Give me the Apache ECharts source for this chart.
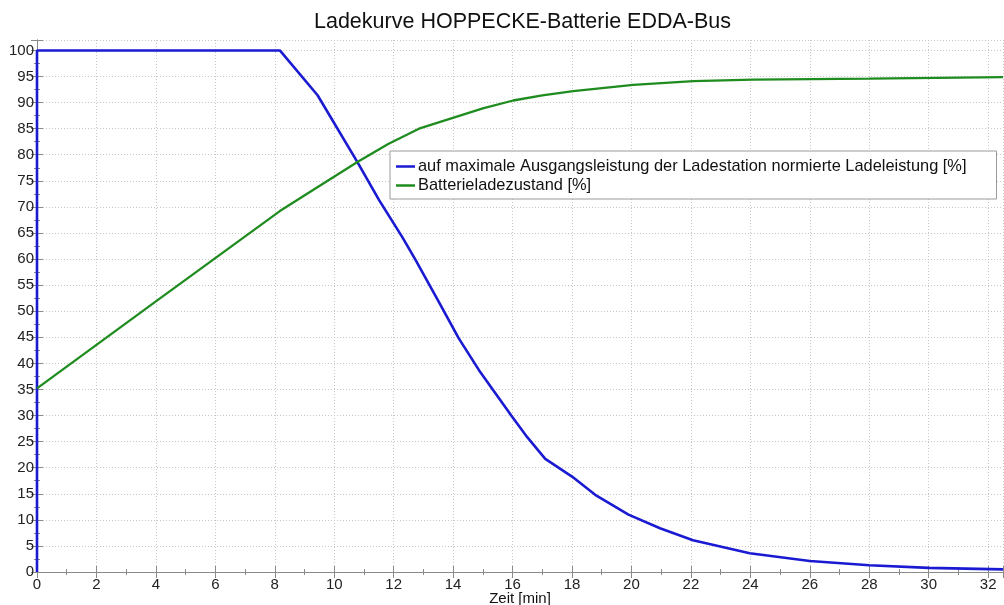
<!DOCTYPE html>
<html>
<head>
<meta charset="utf-8">
<script src="https://cdn.jsdelivr.net/npm/echarts@6/dist/echarts.min.js"></script>
<style>html,body{margin:0;padding:0;background:#fff;overflow:hidden}#c{width:1004px;height:605px}</style>
</head>
<body>
<div id="c"></div>
<script>
const titleText = 'Ladekurve HOPPECKE-Batterie EDDA-Bus';
const xAxisName = 'Zeit [min]';
const seriesNames = ['auf maximale Ausgangsleistung der Ladestation normierte Ladeleistung [%]', 'Batterieladezustand [%]'];

const powerTime = [0, 0, 8.17, 9.44, 10.78, 11.51, 12.29, 12.74, 13.5, 14.19, 14.87, 15.98, 16.5, 17.1, 18.0, 18.78, 19.9, 20.96, 22.07, 23.98, 26.0, 28.0, 30.0, 32.5];
const powerValue = [0, 100, 100, 91.4, 78.6, 71.3, 64.2, 59.8, 52.0, 44.8, 38.7, 29.8, 25.8, 21.7, 18.3, 14.8, 11.0, 8.4, 6.1, 3.6, 2.1, 1.3, 0.8, 0.5];

const socTime = [0, 4, 8.17, 9.5, 10.78, 11.8, 12.85, 14.23, 15.0, 16.02, 17.0, 18.04, 20.06, 22.08, 24.1, 28.0, 32.5];
const socValue = [35.2, 51.9, 69.2, 74.0, 78.6, 82.0, 85.0, 87.5, 88.9, 90.4, 91.4, 92.2, 93.4, 94.1, 94.4, 94.6, 94.9];

const FONT = "'Liberation Sans', Arial, sans-serif";
const blue = '#1a1ad2';
const green = '#1f8c1f';

const chart = echarts.init(document.getElementById('c'), null, {renderer: 'canvas'});
const axisLineStyle = {color: '#8a8a8a', width: 1};
const gridLine = {show: true, lineStyle: {color: '#c8c8c8', type: [1, 2], width: 1}};

chart.setOption({
  backgroundColor: '#fff',
  animation: false,
  title: {
    text: titleText, left: 309, top: 6,
    textStyle: {fontFamily: FONT, fontSize: 21.5, fontWeight: 'normal', color: '#111'}
  },
  legend: {
    orient: 'vertical', left: 390, top: 151,
    icon: 'rect', itemWidth: 19, itemHeight: 2.5, itemGap: 2,
    padding: [7, 30, 5, 6],
    backgroundColor: '#fff', borderColor: '#9a9a9a', borderWidth: 1, borderRadius: 0,
    textStyle: {fontFamily: FONT, fontSize: 16.4, color: '#111', padding: [0, 0, 0, -2], lineHeight: 17},
    data: seriesNames
  },
  grid: {left: 37, right: 1, top: 40, bottom: 33, containLabel: false, outerBoundsMode: 'none'},
  xAxis: [{
    type: 'value', min: 0, max: 32.5, interval: 2, position: 'bottom',
    name: xAxisName, nameLocation: 'middle', nameGap: 19, nameMoveOverlap: false,
    nameTextStyle: {fontFamily: FONT, fontSize: 15, color: '#111'},
    axisLine: {show: true, lineStyle: axisLineStyle},
    axisTick: {show: true, inside: true, length: 6, lineStyle: axisLineStyle},
    minorTick: {show: true, splitNumber: 2, length: 3, lineStyle: axisLineStyle},
    axisLabel: {fontFamily: FONT, fontSize: 15, color: '#222', margin: 5, showMaxLabel: false,
      formatter: v => (Number.isInteger(v) ? String(v) : '')},
    splitLine: gridLine
  }, {
    type: 'value', min: 0, max: 32.5, interval: 2, position: 'top',
    axisLine: {show: true, lineStyle: axisLineStyle},
    axisTick: {show: true, inside: true, length: 6, lineStyle: axisLineStyle},
    minorTick: {show: true, splitNumber: 2, length: 3, lineStyle: axisLineStyle},
    axisLabel: {show: false}, splitLine: {show: false}
  }],
  yAxis: [{
    type: 'value', min: 0, max: 102, interval: 5, position: 'left',
    axisLine: {show: true, lineStyle: axisLineStyle},
    axisTick: {show: true, inside: true, length: 6, lineStyle: axisLineStyle},
    minorTick: {show: true, splitNumber: 2, length: 3, lineStyle: axisLineStyle},
    axisLabel: {fontFamily: FONT, fontSize: 15, color: '#222', margin: 3, showMaxLabel: false,
      formatter: v => (v % 5 === 0 ? String(v) : '')},
    splitLine: gridLine
  }, {
    type: 'value', min: 0, max: 102, interval: 5, position: 'right',
    axisLine: {show: true, lineStyle: axisLineStyle},
    axisTick: {show: true, inside: true, length: 6, lineStyle: axisLineStyle},
    minorTick: {show: true, splitNumber: 2, length: 3, lineStyle: axisLineStyle},
    axisLabel: {show: false}, splitLine: {show: false}
  }],
  series: [{
    name: seriesNames[0], type: 'line', xAxisIndex: 0, yAxisIndex: 0,
    showSymbol: false, smooth: false, clip: false,
    lineStyle: {color: blue, width: 2.6}, itemStyle: {color: blue},
    data: powerTime.map((t, i) => [t, powerValue[i]])
  }, {
    name: seriesNames[1], type: 'line', xAxisIndex: 0, yAxisIndex: 0,
    showSymbol: false, smooth: false, clip: false,
    lineStyle: {color: green, width: 2.3}, itemStyle: {color: green},
    data: socTime.map((t, i) => [t, socValue[i]])
  }]
});
</script>
</body>
</html>
